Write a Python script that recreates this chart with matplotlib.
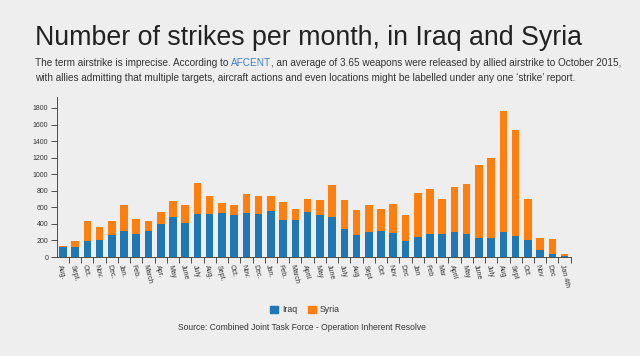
import matplotlib
matplotlib.use("Agg")
import matplotlib.pyplot as plt
from matplotlib.patches import Patch
import numpy as np

# monthly strike counts, Aug 2014 - Jan 4th 2018
months = ["Aug.", "Sept.", "Oct.", "Nov.", "Dec.", "Jan.", "Feb.", "March", "Apr.", "May", "June", "July",
          "Aug.", "Sept.", "Oct.", "Nov.", "Dec.", "Jan.", "Feb.", "March", "April", "May", "June", "July",
          "Aug", "Sept", "Oct", "Nov", "Dec", "Jan", "Feb", "Mar", "April", "May", "June", "July",
          "Aug", "Sept", "Oct", "Nov", "Dec", "Jan 4th"]
iraq = [115, 115, 188, 200, 268, 308, 276, 308, 396, 480, 416, 524,
        524, 536, 508, 536, 516, 556, 448, 452, 548, 508, 488, 336,
        268, 296, 308, 284, 188, 240, 276, 276, 304, 276, 232, 232,
        304, 256, 200, 88, 32, 8]
syria = [15, 80, 252, 160, 172, 320, 188, 132, 148, 200, 212, 372,
         216, 120, 120, 228, 224, 176, 212, 132, 156, 180, 380, 352,
         300, 332, 268, 356, 320, 536, 544, 428, 536, 604, 884, 960,
         1456, 1280, 504, 144, 184, 28]

BG = "#eeeeee"
IRAQ_C = "#1f77b4"
SYRIA_C = "#ff7f0e"
TXT = "#333333"
plt.rcParams["font.family"] = ["Liberation Sans", "DejaVu Sans"]

fig = plt.figure(figsize=(6.4, 3.56), dpi=100, facecolor=BG)
ax = fig.add_axes([56.7 / 640, 1 - 257 / 356, 514 / 640, 160.3 / 356], facecolor=BG)

x = np.arange(len(months))
ax.bar(x, iraq, width=0.62, color=IRAQ_C, label="Iraq")
ax.bar(x, syria, width=0.62, bottom=iraq, color=SYRIA_C, label="Syria")

totals = np.array(iraq) + np.array(syria)
ax.set_xlim(-0.5, len(months) - 0.5)
ax.set_ylim(0, totals.max() * 1.1)
ax.set_yticks(range(0, 1801, 200))
ax.tick_params(axis="y", labelsize=5, colors=TXT, length=4, width=0.6, pad=2)

ax.set_xticks(x)
ax.set_xticklabels(months, rotation=-76, ha="left", va="top", rotation_mode="anchor", fontsize=5, color=TXT)
ax.tick_params(axis="x", length=0, pad=5)
ax.set_xticks(x + 0.5, minor=True)
ax.tick_params(axis="x", which="minor", length=4, width=0.6, color=TXT)

for s in ["top", "right"]:
    ax.spines[s].set_visible(False)
for s in ["left", "bottom"]:
    ax.spines[s].set_color(TXT)
    ax.spines[s].set_linewidth(0.6)

# title and intro text
fig.text(35 / 640, 1 - 45 / 356, "Number of strikes per month, in Iraq and Syria",
         fontsize=19.3, color="#222222", va="baseline")
y1 = 1 - 66 / 356
fs = 7.2
t1 = fig.text(35 / 640, y1, "The term airstrike is imprecise. According to ", fontsize=fs, color=TXT, va="baseline")
fig.canvas.draw()
r = fig.canvas.get_renderer()
x1 = fig.transFigure.inverted().transform((t1.get_window_extent(r).x1, 0))[0]
t2 = fig.text(x1, y1, "AFCENT", fontsize=fs, color="#3f7fc6", va="baseline")
x2 = fig.transFigure.inverted().transform((t2.get_window_extent(r).x1, 0))[0]
fig.text(x2, y1, ", an average of 3.65 weapons were released by allied airstrike to October 2015,",
         fontsize=fs, color=TXT, va="baseline")
fig.text(35 / 640, 1 - 81 / 356,
         "with allies admitting that multiple targets, aircraft actions and even locations might be labelled under any one \u2018strike\u2019 report.",
         fontsize=fs, color=TXT, va="baseline")

handles = [Patch(color=IRAQ_C, label="Iraq"), Patch(color=SYRIA_C, label="Syria")]
fig.legend(handles=handles, loc="center", bbox_to_anchor=(305 / 640, 1 - 310 / 356), ncol=2,
           frameon=False, fontsize=6.3, handlelength=0.9, handleheight=0.9, handletextpad=0.5,
           columnspacing=1.2, labelcolor=TXT)
fig.text(302 / 640, 1 - 328 / 356, "Source: Combined Joint Task Force - Operation Inherent Resolve",
         fontsize=6.15, color=TXT, ha="center", va="center")

fig.savefig("out.png", dpi=100, facecolor=BG)
